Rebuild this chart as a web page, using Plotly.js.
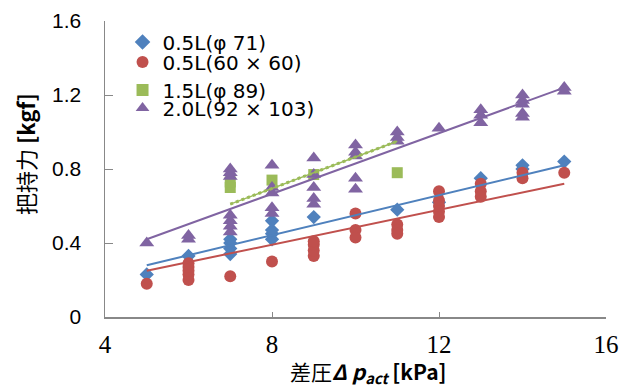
<!DOCTYPE html>
<html><head><meta charset="utf-8">
<script src="https://cdn.plot.ly/plotly-3.0.1.min.js"></script>
<style>html,body{margin:0;padding:0;background:#fff}#chart{width:622px;height:390px}</style>
</head><body><div id="chart"></div>
<script>
// Series data (x: differential pressure kPa, y: holding force kgf)
const names = ["0.5L(φ 71)", "0.5L(60 × 60)", "1.5L(φ 89)", "2.0L(92 × 103)"];

const blueX = [5, 6, 7, 7, 7, 7, 8, 8, 8, 8, 9, 11, 12, 13, 14, 14, 15];
const blueY = [0.23, 0.33, 0.34, 0.37, 0.40, 0.42, 0.42, 0.45, 0.47, 0.52, 0.54, 0.58, 0.62, 0.75, 0.80, 0.82, 0.84];

const redX = [5, 6, 6, 6, 6, 6, 7, 8, 9, 9, 9, 9, 10, 10, 10, 11, 11, 11, 12, 12, 12, 12, 12, 13, 13, 13, 14, 14, 15];
const redY = [0.18, 0.20, 0.23, 0.25, 0.27, 0.29, 0.22, 0.30, 0.33, 0.36, 0.39, 0.41, 0.56, 0.47, 0.43, 0.50, 0.47, 0.45, 0.68, 0.63, 0.60, 0.57, 0.54, 0.72, 0.68, 0.65, 0.78, 0.75, 0.78];

const greenX = [7, 7, 8, 9, 11];
const greenY = [0.70, 0.73, 0.74, 0.77, 0.78];

const purpleX = [5, 6, 6, 7, 7, 7, 7, 7, 7, 7, 8, 8, 8, 8, 8, 9, 9, 9, 9, 9, 10, 10, 10, 10, 10, 11, 11, 11, 12, 13, 13, 13, 14, 14, 14, 14, 14, 15, 15];
const purpleY = [0.40, 0.42, 0.44, 0.76, 0.78, 0.80, 0.46, 0.49, 0.52, 0.55, 0.82, 0.70, 0.67, 0.59, 0.56, 0.86, 0.77, 0.70, 0.64, 0.61, 0.93, 0.89, 0.87, 0.75, 0.69, 1.00, 0.97, 0.95, 1.02, 1.12, 1.09, 1.05, 1.20, 1.17, 1.15, 1.10, 1.08, 1.24, 1.22];

// Linear trendline endpoints
const blueTrendX = [5, 15],  blueTrendY = [0.28, 0.82];
const redTrendX = [5, 15],   redTrendY = [0.25, 0.72];
const greenTrendX = [7, 11], greenTrendY = [0.61, 0.95];
const purpleTrendX = [5, 15], purpleTrendY = [0.42, 1.24];

const xTicks = [4, 8, 12, 16];
const yTicks = [0, 0.4, 0.8, 1.2, 1.6];
const yTickText = ["0", "0.4", "0.8", "1.2", "1.6"];

const C = {blue: "#4F81BD", red: "#C0504D", green: "#9BBB59", purple: "#8064A2"};

const data = [
  {x: blueX, y: blueY, name: names[0], type: "scatter", mode: "markers", legend: "legend",
   marker: {symbol: "diamond", size: 11, color: C.blue}},
  {x: redX, y: redY, name: names[1], type: "scatter", mode: "markers", legend: "legend2",
   marker: {symbol: "circle", size: 12, color: C.red}},
  {x: greenX, y: greenY, name: names[2], type: "scatter", mode: "markers", legend: "legend3",
   marker: {symbol: "square", size: 11, color: C.green}},
  {x: purpleX, y: purpleY, name: names[3], type: "scatter", mode: "markers", legend: "legend4",
   marker: {symbol: "triangle-up", size: 13, color: C.purple}},
  {x: blueTrendX, y: blueTrendY, type: "scatter", mode: "lines", showlegend: false, hoverinfo: "skip",
   line: {color: C.blue, width: 2}},
  {x: redTrendX, y: redTrendY, type: "scatter", mode: "lines", showlegend: false, hoverinfo: "skip",
   line: {color: C.red, width: 2}},
  {x: greenTrendX, y: greenTrendY, type: "scatter", mode: "lines", showlegend: false, hoverinfo: "skip",
   line: {color: C.green, width: 1.5}},
  {x: greenTrendX, y: greenTrendY, type: "scatter", mode: "lines", showlegend: false, hoverinfo: "skip",
   line: {color: C.green, width: 3, dash: "dot"}},
  {x: purpleTrendX, y: purpleTrendY, type: "scatter", mode: "lines", showlegend: false, hoverinfo: "skip",
   line: {color: C.purple, width: 2}}
];

const legFont = {family: "DejaVu Sans, Liberation Sans, sans-serif", size: 20, color: "#000"};
function leg(yc) {
  return {x: 0.035, y: (317 - yc) / 296, xanchor: "left", yanchor: "middle",
    bgcolor: "rgba(0,0,0,0)", font: legFont, itemsizing: "constant", itemwidth: 30};
}

const layout = {
  width: 622, height: 390,
  margin: {l: 105, r: 16, t: 21, b: 73},
  paper_bgcolor: "#fff", plot_bgcolor: "#fff",
  showlegend: true,
  legend: leg(42), legend2: leg(62), legend3: leg(90), legend4: leg(108),
  xaxis: {range: [4, 16], tickvals: xTicks, ticktext: xTicks.map(String),
    showgrid: false, zeroline: false, showline: true, linecolor: "#888", linewidth: 1.5,
    ticks: "inside", ticklen: 5, tickcolor: "#888", tickwidth: 1,
    tickfont: {family: "Liberation Serif, Times New Roman, serif", size: 25, color: "#000"},
    ticklabelstandoff: 4},
  yaxis: {range: [0, 1.6], tickvals: yTicks, ticktext: yTickText,
    showgrid: false, zeroline: false, showline: true, linecolor: "#888", linewidth: 1.5,
    ticks: "inside", ticklen: 8, tickcolor: "#888", tickwidth: 1,
    tickfont: {family: "Liberation Sans, Arial, sans-serif", size: 21, color: "#000"},
    ticklabelstandoff: 18},
  annotations: [
    {text: "差圧<b><i>Δ p<sub>act</sub></i></b> <b>[kPa]</b>", xref: "paper", yref: "paper",
     x: 0.525, y: 0, xanchor: "center", yanchor: "middle", yshift: -55, showarrow: false,
     font: {family: "Noto Sans CJK JP, sans-serif", size: 21, color: "#000"}},
    {text: "把持力 <b>[kgf]</b>", xref: "paper", yref: "paper",
     x: -0.16, y: 0.55, xanchor: "center", yanchor: "middle", textangle: -90, showarrow: false,
     font: {family: "Noto Sans CJK JP, sans-serif", size: 22, color: "#000"}}
  ]
};

Plotly.newPlot("chart", data, layout, {displayModeBar: false, staticPlot: true});
</script>
</body></html>
